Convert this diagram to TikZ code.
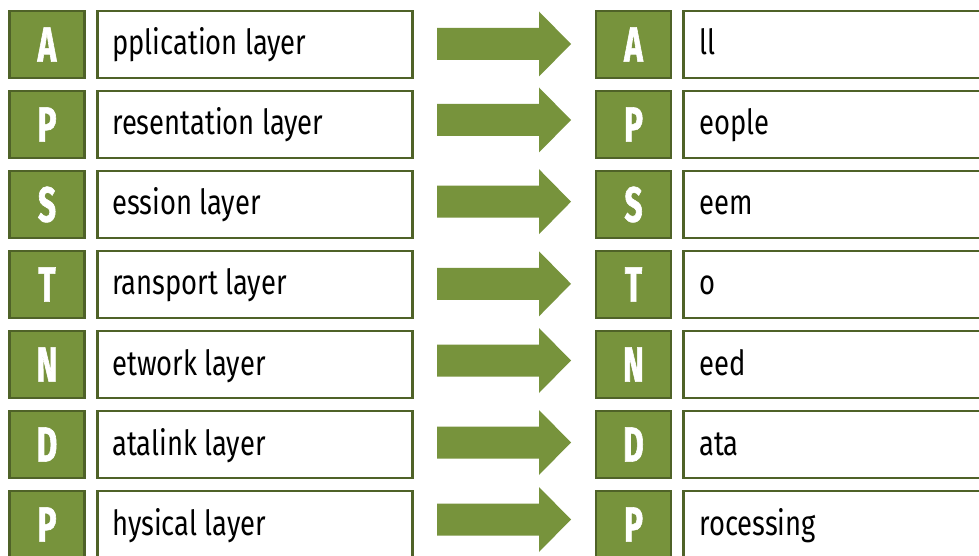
\documentclass[tikz,border=0pt]{standalone}
\usepackage{fontspec}
\setmainfont{Fira Sans}[FakeStretch=0.79]
\newfontfamily\letterfont{Fira Sans}[FakeStretch=0.64, FakeBold=1.2]
\definecolor{olivefill}{HTML}{77933C}
\definecolor{olivedark}{HTML}{4F6228}
\begin{document}
\begin{tikzpicture}[x=0.75pt,y=-0.75pt,
  letterbox/.style={draw=olivedark, fill=olivefill, line width=1.9pt, minimum width=56.25pt, minimum height=50.25pt, inner sep=0pt, text=white, font=\letterfont\bfseries\fontsize{37}{37}\selectfont},
  textbox/.style={draw=olivedark, fill=white, line width=1.9pt, minimum height=50.25pt, inner sep=0pt, anchor=west},
  lbltext/.style={anchor=base west, inner sep=0pt, text=black, font=\fontsize{26}{26}\selectfont},
  bigarrow/.style={fill=olivefill}]
\clip (0,0) rectangle (979,556);
\fill[white] (0,0) rectangle (979,556);
\foreach \L/\lt/\rt/\ay [count=\i from 0] in {A/pplication layer/ll/44, P/resentation layer/eople/120, S/ession layer/eem/201.7, T/ransport layer/o/283.8, N/etwork layer/eed/360.5, D/atalink layer/ata/442.5, P/hysical layer/rocessing/519.5}{
  \pgfmathsetmacro\cy{44.5+80*\i}
  \node[letterbox] (la\i) at (47,\cy) {\L};
  \node[textbox, minimum width=236.25pt] (lb\i) at (96,\cy) {};
  \node[lbltext] (lt\i) at (112,\cy+10.5) {\lt};
  \coordinate (ar\i) at (437,\ay);
  \fill[bigarrow] (ar\i) ++(0,-16) -- ++(102,0) -- ++(0,-16.5) -- ++(32,32.5) -- ++(-32,32.5) -- ++(0,-16.5) -- ++(-102,0) -- cycle;
  \node[letterbox] (ra\i) at (633.5,\cy) {\L};
  \node[textbox, minimum width=240pt] (rb\i) at (682,\cy) {};
  \node[lbltext] (rt\i) at (699,\cy+10.5) {\rt};
}
\end{tikzpicture}
\end{document}
